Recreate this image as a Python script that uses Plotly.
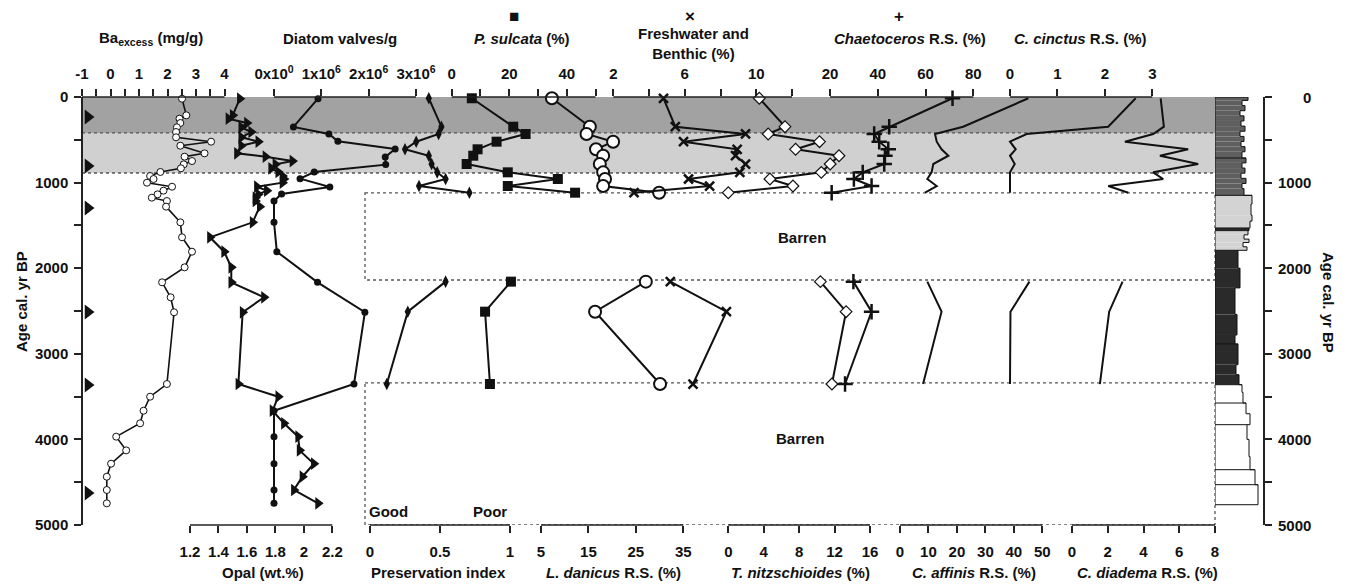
import plotly.graph_objects as go

# ---------------- data ----------------
age_geochem = [20, 214, 253, 304, 354, 409, 471, 522, 569, 658, 697, 748, 787, 833, 876, 923, 958,
               1001, 1048, 1094, 1137, 1176, 1215, 1281, 1464, 1639, 1807, 1990, 2165, 2340, 2515,
               3353, 3501, 3665, 3812, 3968, 4128, 4284, 4436, 4591, 4747]
ba_excess = [2.51, 2.66, 2.42, 2.45, 2.33, 2.30, 2.30, 3.53, 2.45, 3.30, 2.60, 2.86, 2.57, 2.47, 1.75,
             1.39, 1.51, 1.28, 2.16, 1.86, 1.65, 1.45, 1.98, 1.95, 2.45, 2.51, 2.86, 2.60, 1.81, 2.11,
             2.23, 1.98, 1.39, 1.16, 1.04, 0.20, 0.55, 0.02, -0.13, -0.13, -0.13]
opal = [1.55, 1.50, 1.47, 1.60, 1.56, 1.63, 1.56, 1.68, 1.56, 1.53, 1.73, 1.92, 1.80, 1.77, 1.82,
        1.85, 1.86, 1.85, 1.67, 1.74, 1.68, 1.66, 1.66, 1.69, 1.64, 1.34, 1.44, 1.49, 1.49, 1.72,
        1.57, 1.54, 1.82, 1.78, 1.86, 1.96, 1.97, 2.07, 1.99, 1.93, 2.10]

age_valves = [20, 350, 432, 518, 607, 701, 790, 876, 954, 1051, 1133, 1215, 1464, 1807, 2165, 2515,
              3353, 3665, 3968, 4284, 4591, 4747]
diatom_valves = [0.93e6, 0.41e6, 1.16e6, 1.35e6, 2.56e6, 2.35e6, 2.36e6, 0.85e6, 0.55e6, 1.18e6,
                 0.16e6, 0.0, 0.0, 0.06e6, 0.92e6, 1.92e6, 1.69e6, 0.0, 0.0, 0.0, 0.0, 0.0]

age_census = [15, 347, 432, 522, 611, 686, 783, 880, 958, 1040, 1118, 2157, 2508, 3353]
preservation = [0.42, 0.51, 0.49, 0.33, 0.25, 0.42, 0.44, 0.48, 0.54, 0.35, 0.71, 0.54, 0.27, 0.12]
p_sulcata = [7.0, 21.4, 25.7, 15.6, 9.0, 7.5, 5.2, 19.5, 36.9, 19.5, 42.9, 20.6, 11.6, 13.3]
l_danicus = [7.3, 15.3, 14.6, 20.2, 16.6, 18.1, 17.4, 18.1, 18.5, 18.1, 29.9, 27.1, 16.4, 30.1]
fresh_benthic = [4.81, 5.47, 9.40, 5.93, 8.93, 8.84, 9.40, 9.08, 6.21, 7.39, 3.16, 5.19, 8.33, 6.46]
t_nitzschioides = [3.5, 6.4, 4.5, 10.3, 7.6, 12.5, 11.5, 10.5, 4.7, 7.3, 0.0, 10.4, 13.3, 11.7]
chaetoceros = [71.3, 44.8, 38.5, 40.6, 44.4, 43.0, 42.7, 33.7, 30.0, 37.4, 20.7, 29.8, 37.4, 26.3]
c_affinis = [45.1, 22.2, 12.3, 12.9, 14.6, 17.0, 11.7, 11.1, 9.6, 12.9, 8.8, 9.6, 14.6, 8.1]
c_cinctus = [2.65, 2.07, 0.35, 0.0, 0.12, 0.0, 0.10, 0.0, 0.0, 0.0, 0.0, 0.41, 0.01, 0.0]
c_diadema = [4.96, 5.14, 4.54, 2.96, 6.50, 4.92, 7.06, 4.54, 5.10, 2.03, 3.15, 2.83, 2.08, 1.56]

age_control = [234, 806, 1297, 2512, 3364, 4626]
zone_bounds = [0, 420, 888]
barren_top = [1121, 3340]
barren_bottom = [2138, 5000]
age_ticks = [0, 1000, 2000, 3000, 4000, 5000]
age_minor_ticks = [500, 1500, 2500, 3500, 4500]

litho_bounds = [0, 40, 100, 160, 220, 280, 340, 400, 460, 520, 580, 640, 713,
                770, 830, 890, 950, 1010, 1070, 1149,
                1250, 1380, 1450, 1530, 1561,
                1610, 1660, 1700, 1750, 1791,
                2000, 2230, 2540, 2780, 2886,
                3127, 3244, 3361,
                3450, 3575, 3700, 3828, 4000, 4200, 4354, 4529, 4763]
litho_width = [33, 27, 30, 25, 29, 26, 30, 25, 29, 26, 30, 27,
               31, 27, 30, 26, 31, 27, 29,
               37, 36, 37, 35, 34,
               33, 29, 34, 28, 32,
               23, 25, 20, 22, 20,
               23, 21, 24,
               27, 28, 31, 35, 32, 34, 35, 40, 43]
litho_facies = ['dg'] * 12 + ['dg'] * 7 + ['lg'] * 4 + ['bk'] + ['lg'] * 5 + ['bk'] * 5 + ['bk'] * 3 + ['wh'] * 9
litho_unit_bounds = [713, 1149, 1530, 1561, 1791, 2886, 3361, 3575, 3828, 4354, 4529]

# ---------------- layout geometry / style ----------------
W, H = 1349, 588
PX_L, PX_R = 82, 1263
PY_T, PY_B = 97, 525
FONT = "Liberation Sans, Arial, sans-serif"
INK = "#111111"
AX = "#222222"


def px2paper(px):
    return (px - PX_L) / (PX_R - PX_L)


def py2paper(py):
    return (PY_B - py) / (PY_B - PY_T)


panels = [
    dict(side='top', lo=-1, hi=4, p0=82, p1=224.5,
         tv=[-1, 0, 1, 2, 3, 4], mv=[-0.5, 0.5, 1.5, 2.5, 3.5]),
    dict(side='bottom', lo=1.2, hi=2.2, p0=190, p1=332.3,
         tv=[1.2, 1.4, 1.6, 1.8, 2.0, 2.2], tt=['1.2', '1.4', '1.6', '1.8', '2', '2.2']),
    dict(side='top', lo=0, hi=3e6, p0=274, p1=416,
         tv=[0, 1e6, 2e6, 3e6],
         tt=['0x10<sup>0</sup>', '1x10<sup>6</sup>', '2x10<sup>6</sup>', '3x10<sup>6</sup>']),
    dict(side='bottom', lo=0, hi=1, p0=370, p1=510, tv=[0, 0.5, 1], tt=['0', '0.5', '1']),
    dict(side='top', lo=0, hi=50, p0=451.7, p1=595.5, tv=[0, 20, 40], mv=[10, 30, 50]),
    dict(side='bottom', lo=5, hi=35, p0=541, p1=683.3, tv=[5, 15, 25, 35]),
    dict(side='top', lo=2, hi=12, p0=613.3, p1=792, tv=[2, 6, 10], mv=[4, 8, 12]),
    dict(side='bottom', lo=0, hi=16, p0=728.3, p1=870, tv=[0, 4, 8, 12, 16]),
    dict(side='top', lo=20, hi=80, p0=830, p1=973.3, tv=[20, 40, 60, 80]),
    dict(side='bottom', lo=0, hi=50, p0=900, p1=1042.3, tv=[0, 10, 20, 30, 40, 50]),
    dict(side='top', lo=0, hi=3, p0=1010, p1=1152.3, tv=[0, 1, 2, 3]),
    dict(side='bottom', lo=0, hi=8, p0=1072, p1=1215, tv=[0, 2, 4, 6, 8]),
]

fig = go.Figure()
layout = {}
shapes = []

for i, p in enumerate(panels, start=1):
    padL = min(6, p['p0'] - PX_L)
    padR = min(6, PX_R - p['p1'])
    u = (p['hi'] - p['lo']) / (p['p1'] - p['p0'])
    name = 'xaxis' if i == 1 else f'xaxis{i}'
    ref = 'x' if i == 1 else f'x{i}'
    p['ref'] = ref
    ax = dict(
        domain=[px2paper(p['p0'] - padL), px2paper(p['p1'] + padR)],
        range=[p['lo'] - padL * u, p['hi'] + padR * u],
        side=p['side'], anchor='y', tickmode='array', tickvals=p['tv'],
        ticktext=p.get('tt', [f'{v:g}' for v in p['tv']]),
        ticks='outside', ticklen=7, tickwidth=1.5, tickcolor=AX,
        showline=False, showgrid=False, zeroline=False,
        ticklabelstandoff=4 if p['side'] == 'top' else 6,
        tickfont=dict(family=FONT, size=15, color=INK, weight='bold'),
    )
    if 'mv' in p:
        ax['minor'] = dict(tickmode='array', tickvals=p['mv'], ticks='outside', ticklen=7,
                           tickwidth=1.5, tickcolor=AX, showgrid=False)
    layout[name] = ax
    yl = 1 if p['side'] == 'top' else 0
    shapes.append(dict(type='line', xref=ref, yref='paper', x0=p['lo'], x1=p['hi'], y0=yl, y1=yl,
                       line=dict(color=AX, width=1.5), layer='above'))


def gapped(ages, vals):
    xs, ys = [], []
    for k, (a, v) in enumerate(zip(ages, vals)):
        if k > 0:
            prev = ages[k - 1]
            if any(prev < bt and a > bb for bt, bb in zip(barren_top, barren_bottom)):
                xs.append(None)
                ys.append(None)
        xs.append(v)
        ys.append(a)
    return xs, ys


def add(vals, ages, axis_idx, marker=None, lw=2.0, gap=False):
    if gap:
        xs, ys = gapped(ages, vals)
    else:
        xs, ys = vals, ages
    fig.add_trace(go.Scatter(
        x=xs, y=ys, xaxis=panels[axis_idx]['ref'], yaxis='y',
        mode='lines+markers' if marker else 'lines',
        line=dict(color=INK, width=lw), marker=marker, cliponaxis=False,
        showlegend=False, connectgaps=False, hoverinfo='x+y'))


add(ba_excess, age_geochem, 0,
    marker=dict(symbol='circle', size=7, color='white', line=dict(color=INK, width=1)), lw=1.6)
add(opal, age_geochem, 1, marker=dict(symbol='triangle-right', size=11, color=INK), lw=2)
add(diatom_valves, age_valves, 2, marker=dict(symbol='circle', size=7, color=INK), lw=2)
add(preservation, age_census, 3, marker=dict(symbol='diamond-tall', size=9, color=INK), gap=True)
add(p_sulcata, age_census, 4, marker=dict(symbol='square', size=10, color=INK), gap=True)
add(l_danicus, age_census, 5,
    marker=dict(symbol='circle', size=12, color='white', line=dict(color=INK, width=2)), gap=True)
add(fresh_benthic, age_census, 6,
    marker=dict(symbol='x-thin', size=9, color=INK, line=dict(color=INK, width=2.5)), gap=True)
add(t_nitzschioides, age_census, 7,
    marker=dict(symbol='diamond', size=9, color='white', line=dict(color=INK, width=1.2)), gap=True)
add(chaetoceros, age_census, 8,
    marker=dict(symbol='cross-thin', size=11, color=INK, line=dict(color=INK, width=2.5)), gap=True)
add(c_affinis, age_census, 9, gap=True)
add(c_cinctus, age_census, 10, gap=True)
add(c_diadema, age_census, 11, gap=True)

# ---------------- lithology column ----------------
facies_color = {'dg': '#5f5f5f', 'lg': '#d3d3d3', 'bk': '#2a2a2a', 'wh': '#ffffff'}
tops = litho_bounds[:-1]
bots = litho_bounds[1:]
fig.add_trace(go.Bar(
    x=litho_width, y=[(t + b) / 2 for t, b in zip(tops, bots)],
    width=[b - t for t, b in zip(tops, bots)], base=0, orientation='h',
    marker=dict(color=[facies_color[f] for f in litho_facies], line=dict(width=0)),
    xaxis='x13', yaxis='y2', showlegend=False, hoverinfo='skip'))
ox, oy = [0, litho_width[0]], [0, 0]
for t, b, w in zip(tops, bots, litho_width):
    ox += [w, w]
    oy += [t, b]
ox += [0, 0]
oy += [litho_bounds[-1], 0]
fig.add_trace(go.Scatter(x=ox, y=oy, mode='lines', line=dict(color=INK, width=1),
                         xaxis='x13', yaxis='y2', showlegend=False, hoverinfo='skip'))
bx, by = [], []
for ub in litho_unit_bounds:
    k = litho_bounds.index(ub)
    bx += [0, litho_width[k], None]
    by += [ub, ub, None]
fig.add_trace(go.Scatter(x=bx, y=by, mode='lines', line=dict(color=INK, width=1),
                         xaxis='x13', yaxis='y2', showlegend=False, hoverinfo='skip'))
layout['xaxis13'] = dict(domain=[px2paper(1215), 1], range=[0, PX_R - 1215], anchor='y2',
                         visible=False, fixedrange=True)

# ---------------- age-control triangles ----------------
fig.add_trace(go.Scatter(x=[6] * len(age_control), y=age_control, mode='markers',
                         marker=dict(symbol='triangle-right', size=13, color=INK),
                         xaxis='x14', yaxis='y', showlegend=False, cliponaxis=False))
layout['xaxis14'] = dict(domain=[0, px2paper(94)], range=[0, 12], anchor='y', visible=False)

# ---------------- zones / barren shading ----------------
for k in range(len(zone_bounds) - 1):
    shapes.insert(0, dict(type='rect', xref='paper', yref='y', x0=0, x1=px2paper(1215),
                          y0=zone_bounds[k], y1=zone_bounds[k + 1],
                          fillcolor=['#a2a2a2', '#d0d0d0'][k], line=dict(width=0), layer='below'))
for zb in zone_bounds[1:]:
    shapes.append(dict(type='line', xref='paper', yref='y', x0=0, x1=px2paper(1215), y0=zb, y1=zb,
                       line=dict(color='#555555', width=1.3, dash='dot'), layer='below'))
for bt, bb in zip(barren_top, barren_bottom):
    shapes.append(dict(type='rect', xref='paper', yref='y', x0=px2paper(365), x1=px2paper(1215),
                       y0=bt, y1=bb, line=dict(color='#555555', width=1.3, dash='dot'),
                       fillcolor='rgba(0,0,0,0)', layer='below'))

# ---------------- axes ----------------
minor_y = dict(tickmode='array', tickvals=age_minor_ticks, ticks='outside', ticklen=7,
               tickwidth=1.5, tickcolor=AX, showgrid=False)
layout['yaxis'] = dict(range=[5000, 0], anchor='free', position=0, side='left',
                       tickmode='array', tickvals=age_ticks, ticktext=[str(a) for a in age_ticks],
                       ticks='outside', ticklen=7, tickwidth=1.5, tickcolor=AX, minor=minor_y,
                       showline=True, linecolor=AX, linewidth=1.5, showgrid=False, zeroline=False,
                       ticklabelstandoff=3,
                       tickfont=dict(family=FONT, size=15, color=INK, weight='bold'))
layout['yaxis2'] = dict(range=[5000, 0], overlaying='y', anchor='x13', side='right',
                        tickmode='array', tickvals=age_ticks, showticklabels=False,
                        ticks='outside', ticklen=7, tickwidth=1.5, tickcolor=AX, minor=minor_y,
                        showline=True, linecolor=AX, linewidth=1.5, showgrid=False,
                        zeroline=False, fixedrange=True)

# ---------------- text ----------------
BF = dict(family=FONT, size=15, color=INK, weight='bold')
ann = []


def txt(text, px, py, **kw):
    d = dict(text=text, x=px2paper(px), y=py2paper(py), xref='paper', yref='paper',
             showarrow=False, font=BF, xanchor='center', yanchor='middle')
    d.update(kw)
    ann.append(d)


txt('Ba<sub>excess</sub> (mg/g)', 151, 38)
txt('Diatom valves/g', 340, 38)
txt('■', 514, 16, font=dict(BF, size=17))
txt('<i>P. sulcata</i> (%)', 522, 38)
txt('×', 690, 16, font=dict(BF, size=17))
txt('Freshwater and<br>Benthic (%)', 693, 44)
txt('+', 899, 16, font=dict(BF, size=17))
txt('<i>Chaetoceros</i> R.S. (%)', 910, 38)
txt('<i>C. cinctus</i> R.S. (%)', 1080, 38)
txt('Opal (wt.%)', 263, 572)
txt('Preservation index', 438, 572)
txt('<i>L. danicus</i> R.S. (%)', 613, 572)
txt('<i>T. nitzschioides</i> (%)', 800, 572)
txt('<i>C. affinis</i> R.S. (%)', 974, 572)
txt('<i>C. diadema</i> R.S. (%)', 1147, 572)
txt('Barren', 802, 238)
txt('Barren', 800, 438)
txt('Age cal. yr BP', 21, 302, textangle=-90)
txt('Age cal. yr BP', 1329, 302, textangle=90)
ann.append(dict(text='Good', xref=panels[3]['ref'], x=0, yref='paper', y=0, xanchor='left',
                yanchor='bottom', yshift=3, xshift=-3, showarrow=False, font=BF))
ann.append(dict(text='Poor', xref=panels[3]['ref'], x=1, yref='paper', y=0, xanchor='right',
                yanchor='bottom', yshift=3, xshift=-1, showarrow=False, font=BF))
for a in age_ticks:
    ann.append(dict(text=str(a), xref='paper', x=1, yref='y2', y=a, xanchor='right',
                    yanchor='middle', xshift=50, showarrow=False, font=BF))

fig.update_layout(
    width=W, height=H, autosize=False,
    margin=dict(l=PX_L, r=W - PX_R, t=PY_T, b=H - PY_B, pad=0),
    paper_bgcolor='white', plot_bgcolor='rgba(0,0,0,0)',
    showlegend=False, shapes=shapes, annotations=ann,
    font=dict(family=FONT, size=15, color=INK),
    **layout)

fig.write_html("out.html", post_script="document.body.style.margin='0px';",
               config={'displayModeBar': False})
